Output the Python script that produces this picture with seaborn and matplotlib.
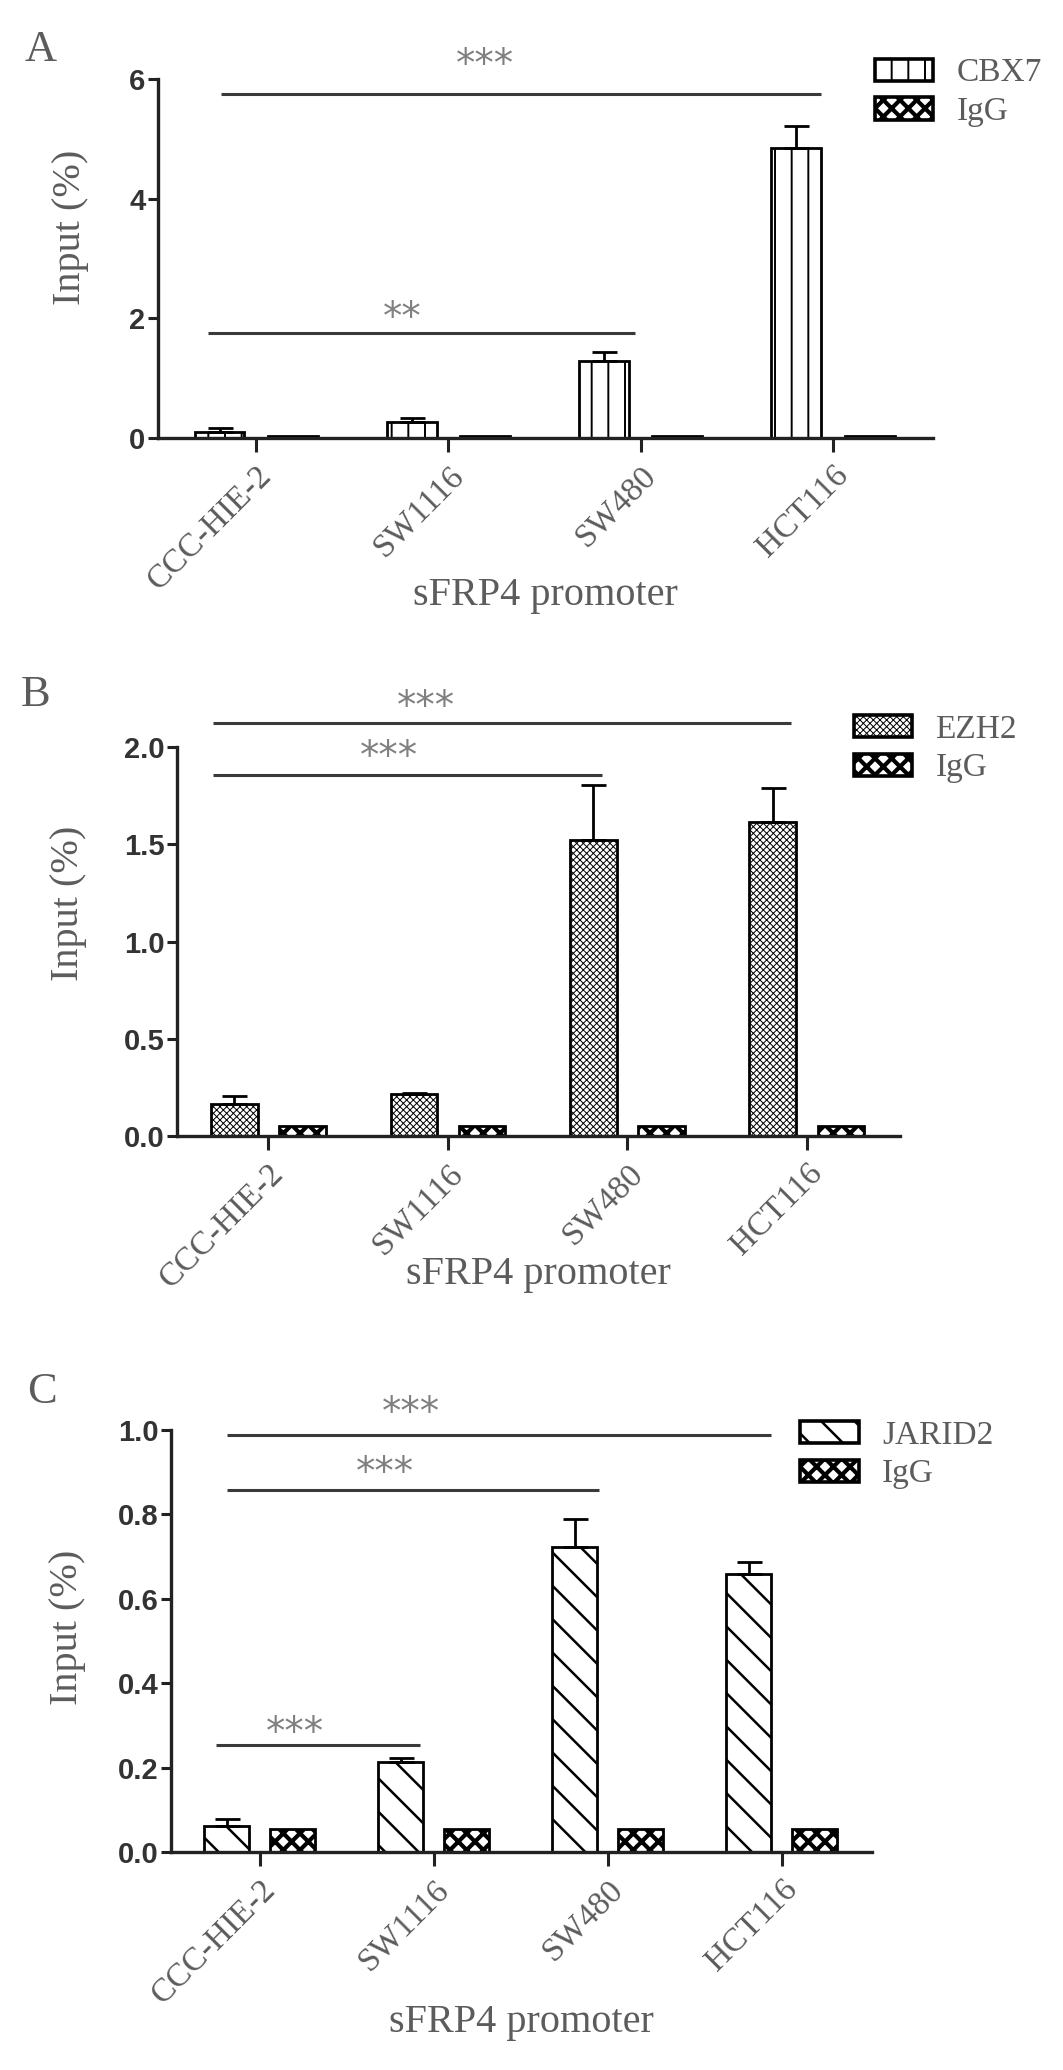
import numpy as np
import pandas as pd
import matplotlib
matplotlib.use("Agg")
import matplotlib.pyplot as plt
import matplotlib.patches as mpatches
from matplotlib.ticker import FormatStrFormatter
import seaborn as sns

# ---- data ----
cell_lines = ["CCC-HIE-2", "SW1116", "SW480", "HCT116"]

cbx7_mean = [0.10, 0.27, 1.28, 4.84]
cbx7_err = [0.06, 0.06, 0.15, 0.37]
igg_a = [0.04, 0.04, 0.04, 0.04]

ezh2_mean = [0.167, 0.215, 1.52, 1.615]
ezh2_err = [0.040, 0.005, 0.285, 0.175]
igg_b = [0.051, 0.051, 0.051, 0.051]

jarid2_mean = [0.061, 0.213, 0.722, 0.659]
jarid2_err = [0.017, 0.009, 0.068, 0.028]
igg_c = [0.054, 0.054, 0.054, 0.054]

# significance bars: (from, to, line height, star x, star height, label)
sig_a = [(-0.18, 2.94, 5.75, 1.19, 6.23, "***"),
         (-0.25, 1.97, 1.76, 0.76, 2.00, "**")]
sig_b = [(-0.31, 2.91, 2.125, 0.88, 2.206, "***"),
         (-0.31, 1.86, 1.855, 0.67, 1.949, "***")]
sig_c = [(-0.19, 2.94, 0.987, 0.87, 1.039, "***"),
         (-0.19, 1.95, 0.857, 0.72, 0.897, "***"),
         (-0.25, 0.92, 0.253, 0.20, 0.283, "***")]

sns.set_style("ticks")
plt.rcParams["font.family"] = ["Liberation Serif", "DejaVu Serif"]
plt.rcParams["hatch.linewidth"] = 1.2

GREY = "#5c5c5c"
LW = 2.0


def hatch_width(patch, w):
    if hasattr(patch, "set_hatch_linewidth"):
        patch.set_hatch_linewidth(w)


fig = plt.figure(figsize=(10.63, 20.70), dpi=100)


def draw_panel(rect, letter, letter_xy, name, means, errs, igg, hatch, hlw,
               ymax, yticks, yfmt, sigs, leg_xy, ylab_xy, xlab_y):
    ax = fig.add_axes(rect)
    df = pd.DataFrame({"line": cell_lines * 2,
                       "antibody": [name] * 4 + ["IgG"] * 4,
                       "value": means + igg})
    sns.barplot(data=df, x="line", y="value", hue="antibody",
                hue_order=[name, "IgG"], palette=["white", "white"],
                width=0.76, gap=0.316, errorbar=None, edgecolor="black",
                linewidth=LW, legend=False, ax=ax)
    for b in ax.containers[0]:
        b.set_hatch(hatch)
        hatch_width(b, hlw)
    for b in ax.containers[1]:
        b.set_hatch("xx")
        hatch_width(b, 3.0)

    xs = [b.get_x() + b.get_width() / 2 for b in ax.containers[0]]
    ax.errorbar(xs, means, yerr=[np.zeros(len(errs)), errs], fmt="none",
                ecolor="black", elinewidth=LW, capsize=9, capthick=LW,
                zorder=3, clip_on=False)

    for x0, x1, y, tx, ty, lab in sigs:
        ax.plot([x0, x1], [y, y], color="#3a3a3a", lw=2.2, clip_on=False,
                solid_capstyle="butt")
        ax.text(tx, ty, lab, ha="center", va="center", fontsize=28,
                color="#808080", family=["DejaVu Sans"])

    ax.set_xlim(-0.51, 3.52)
    ax.set_ylim(0, ymax)
    ax.set_yticks(yticks)
    ax.yaxis.set_major_formatter(FormatStrFormatter(yfmt))
    sns.despine(ax=ax)
    for s in ["left", "bottom"]:
        ax.spines[s].set_linewidth(2.4)
        ax.spines[s].set_color("#222222")

    ax.tick_params(axis="y", length=7, width=2.2, pad=2, colors="#222222")
    for t in ax.get_yticklabels():
        t.set_fontfamily(["Liberation Sans"])
        t.set_fontweight("bold")
        t.set_fontsize(21)
        t.set_color("#333333")
    ax.tick_params(axis="x", length=10, width=2.2, pad=6, colors="#222222")
    ax.set_xticks(range(len(cell_lines)))
    ax.set_xticklabels(cell_lines, rotation=45, ha="right",
                       rotation_mode="anchor", fontsize=24, color=GREY)

    ax.set_xlabel("sFRP4 promoter", fontsize=29, color=GREY)
    ax.xaxis.set_label_coords(0.5, xlab_y)
    ax.set_ylabel("Input (%)", fontsize=29, color=GREY)
    ax.yaxis.set_label_coords(*ylab_xy)

    handles = [mpatches.Patch(facecolor="white", edgecolor="black",
                              hatch=hatch, linewidth=2.6, label=name),
               mpatches.Patch(facecolor="white", edgecolor="black",
                              hatch="xx", linewidth=2.6, label="IgG")]
    leg = ax.legend(handles=handles, loc="upper left",
                    bbox_to_anchor=leg_xy, bbox_transform=fig.transFigure,
                    frameon=False, fontsize=24, handlelength=1.75,
                    handleheight=0.65, handletextpad=0.7, labelspacing=0.25,
                    borderpad=0, borderaxespad=0)
    lp = leg.get_patches()
    hatch_width(lp[0], hlw)
    hatch_width(lp[1], 3.0)
    for t in leg.get_texts():
        t.set_color(GREY)

    fig.text(letter_xy[0], letter_xy[1], letter, fontsize=32, color=GREY,
             ha="center", va="center")
    return ax


draw_panel([0.1486, 0.7884, 0.7291, 0.1734], "A", (0.0386, 0.9758),
           "CBX7", cbx7_mean, cbx7_err, igg_a, "|", 1.4,
           6, [0, 2, 4, 6], "%d", sig_a, (0.823, 0.972),
           (-0.089, 0.588), -0.387)
draw_panel([0.1665, 0.4512, 0.6802, 0.1879], "B", (0.0339, 0.6643),
           "EZH2", ezh2_mean, ezh2_err, igg_b, "xxxxx", 0.7,
           2.0, [0, 0.5, 1.0, 1.5, 2.0], "%.1f", sig_b, (0.803, 0.655),
           (-0.124, 0.599), -0.308)
draw_panel([0.1609, 0.1053, 0.6595, 0.2039], "C", (0.0395, 0.3275),
           "JARID2", jarid2_mean, jarid2_err, igg_c, "\\", 1.8,
           1.0, [0, 0.2, 0.4, 0.6, 0.8, 1.0], "%.1f", sig_c, (0.753, 0.314),
           (-0.121, 0.533), -0.360)

fig.savefig("out.png", dpi=100)
